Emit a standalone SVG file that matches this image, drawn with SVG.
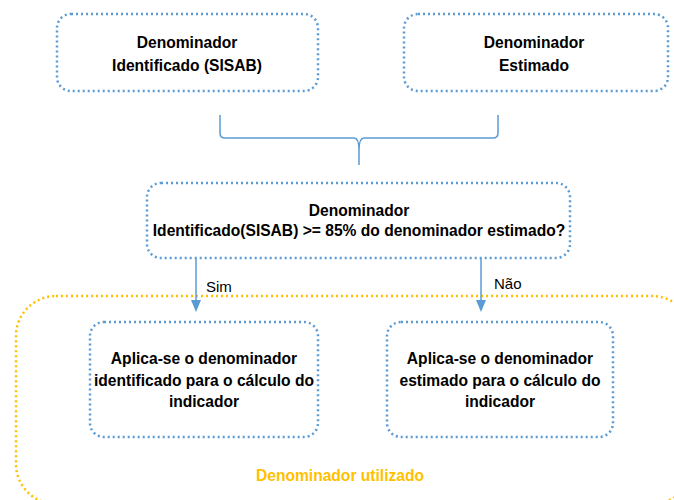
<svg xmlns="http://www.w3.org/2000/svg" width="674" height="500" viewBox="0 0 674 500">
<style>
.box{fill:#fff;stroke:#5B9BD5;stroke-width:2.5;stroke-dasharray:2 3}
.grp{fill:none;stroke:#FFC000;stroke-width:2.5;stroke-dasharray:2 3}
.t{font-family:"Liberation Sans",Arial,sans-serif;font-weight:bold;font-size:15.6px;fill:#000;text-anchor:middle}
.lbl{font-family:"Liberation Sans",Arial,sans-serif;font-size:15px;fill:#000}
.conn{fill:none;stroke:#5B9BD5;stroke-width:1.5}
.head{fill:#5B9BD5}
</style>
<g id="group-used">
<rect class="grp" x="16" y="296" width="676" height="208" rx="40" ry="40"/>
<text x="340" y="481" style="font-family:'Liberation Sans',Arial,sans-serif;font-weight:bold;font-size:15.6px;fill:#FFC000;text-anchor:middle">Denominador utilizado</text>
</g>
<g id="node-identificado">
<rect class="box" x="57" y="14" width="261" height="77" rx="14"/>
<text class="t" x="187" y="48">Denominador</text>
<text class="t" x="187" y="71">Identificado (SISAB)</text>
</g>
<g id="node-estimado">
<rect class="box" x="404" y="14" width="264" height="77" rx="14"/>
<text class="t" x="534" y="48">Denominador</text>
<text class="t" x="534" y="71">Estimado</text>
</g>
<g id="node-decisao">
<rect class="box" x="147" y="183" width="423" height="75" rx="14"/>
<text class="t" x="359" y="216">Denominador</text>
<text class="t" x="359" y="236">Identificado(SISAB) &gt;= 85% do denominador estimado?</text>
</g>
<g id="node-sim">
<rect class="box" x="90" y="322" width="228" height="115" rx="14"/>
<text class="t" x="204" y="364">Aplica-se o denominador</text>
<text class="t" x="204" y="386">identificado para o cálculo do</text>
<text class="t" x="204" y="407">indicador</text>
</g>
<g id="node-nao">
<rect class="box" x="387" y="322" width="226" height="115" rx="14"/>
<text class="t" x="500" y="364">Aplica-se o denominador</text>
<text class="t" x="500" y="386">estimado para o cálculo do</text>
<text class="t" x="500" y="407">indicador</text>
</g>
<g id="connectors">
<path class="conn" d="M220,115 L220,133 Q220,138 225,138 L354,138 Q359,138 359,150 L359,165 M359,150 Q359,138 364,138 L493,138 Q498,138 498,133 L498,115"/>
<line class="conn" x1="196" y1="258" x2="196" y2="302"/>
<path class="head" d="M191,300 L201,300 L196,312 Z"/>
<line class="conn" x1="481" y1="258" x2="481" y2="302"/>
<path class="head" d="M476,300 L486,300 L481,312 Z"/>
<text class="lbl" x="206" y="292">Sim</text>
<text class="lbl" x="494" y="289">Não</text>
</g>
</svg>
